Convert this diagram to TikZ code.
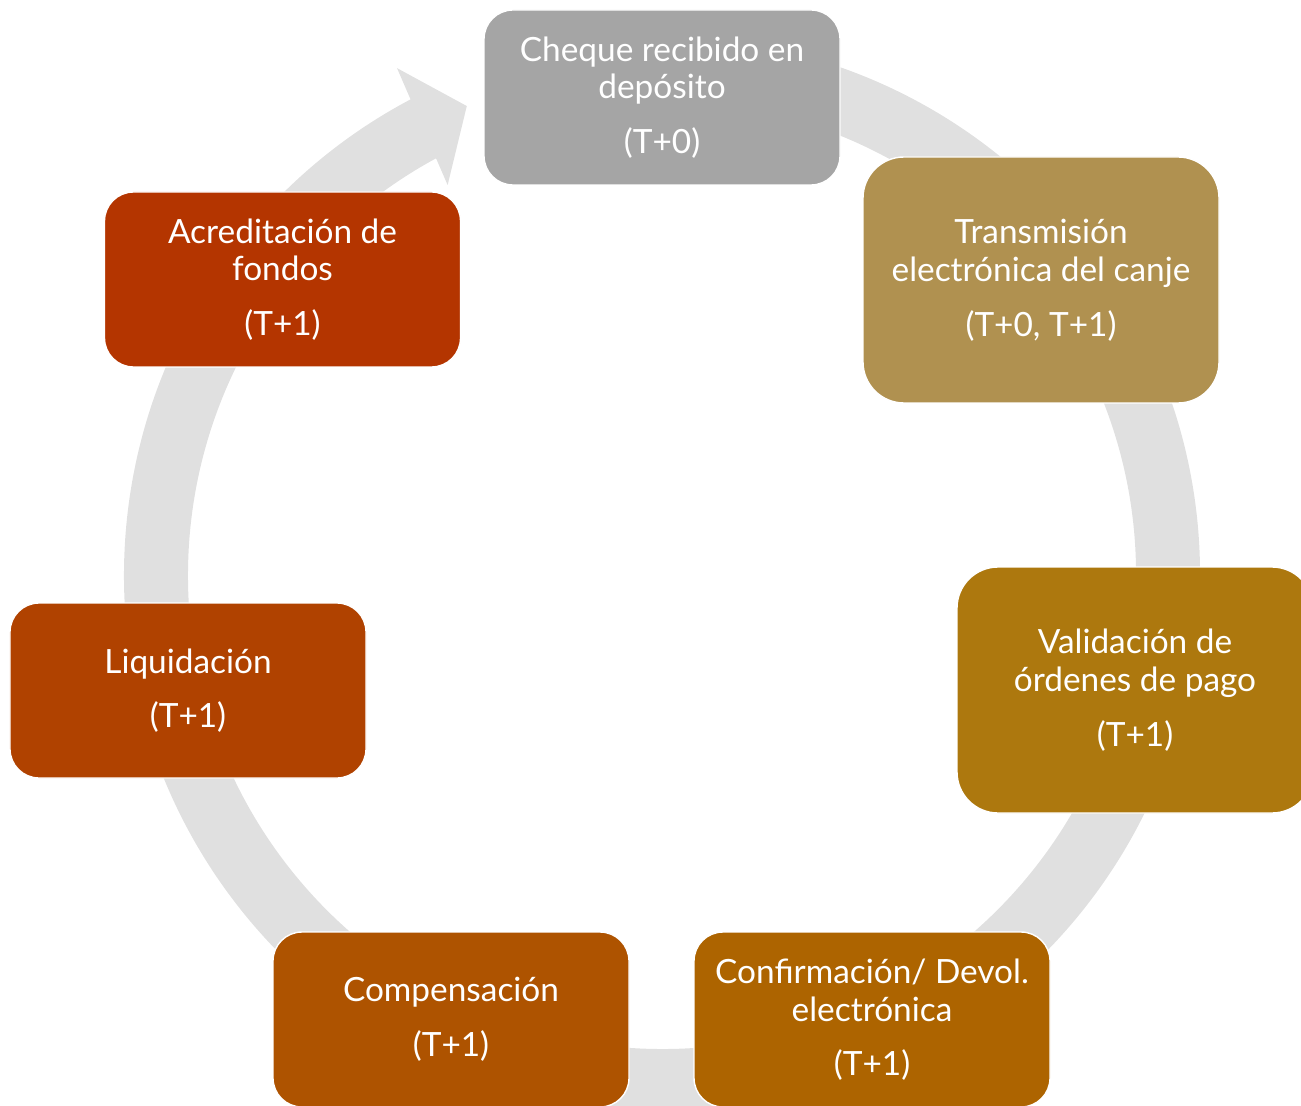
\documentclass[tikz,border=0pt]{standalone}
\usepackage{fontspec}
\setmainfont{Lato}
\usetikzlibrary{calc}
\definecolor{ringgray}{HTML}{E0E0E0}
\definecolor{cgray}{HTML}{A5A5A5}
\definecolor{ctan}{HTML}{B09150}
\definecolor{cgold}{HTML}{AD780E}
\definecolor{cocre}{HTML}{AD6400}
\definecolor{corange}{HTML}{AE5300}
\definecolor{crust}{HTML}{B04200}
\definecolor{cred}{HTML}{B43500}
\tikzset{%
  % Specifications for style of nodes:
       base/.style = {rectangle, rounded corners=5.8mm, draw=white,
                      line width=0.8pt, minimum width=7.12cm,
                      minimum height=3.5cm, align=center, text=white,
                      font=\fontsize{19}{21.6}\selectfont},
       tall/.style = {base, minimum height=4.92cm, rounded corners=8.2mm},
       ring/.style = {draw=ringgray, line width=1.28cm, line cap=butt},
}

\begin{document}
\begin{tikzpicture}
  \useasboundingbox (0,0) rectangle (26.02,22.1);
  \clip (0,0) rectangle (26.02,22.1);
  \coordinate (hub) at (13.24,10.6);
  % grey circular arrow behind the boxes
  \draw[ring] ($(hub)+(85:10.12)$) arc[start angle=85,end angle=-243,radius=10.12];
  \fill[ringgray] ($(hub)+(117.6:11.44)$) -- ($(hub)+(112.6:10.16)$)
        -- ($(hub)+(118.8:8.9)$) -- cycle;
  % Specification of nodes (position, etc.)
  \node (cheque)  [base, fill=cgray]   at (13.24,20.15)
        {Cheque recibido en\\depósito\\[9.5pt](T+0)};
  \node (transm)  [tall, fill=ctan]    at (20.82,16.5)
        {Transmisión\\electrónica del canje\\[9.5pt](T+0, T+1)};
  \node (valid)   [tall, fill=cgold]   at (22.70,8.30)
        {Validación de\\órdenes de pago\\[9.5pt](T+1)};
  \node (confirm) [base, fill=cocre]   at (17.44,1.71)
        {Confirmación/ Devol.\\electrónica\\[9.5pt](T+1)};
  \node (compens) [base, fill=corange] at (9.02,1.71)
        {Compensación\\[9.5pt](T+1)};
  \node (liquid)  [base, fill=crust]   at (3.76,8.29)
        {Liquidación\\[9.5pt](T+1)};
  \node (acred)   [base, fill=cred]    at (5.65,16.51)
        {Acreditación de\\fondos\\[9.5pt](T+1)};
\end{tikzpicture}
\end{document}
